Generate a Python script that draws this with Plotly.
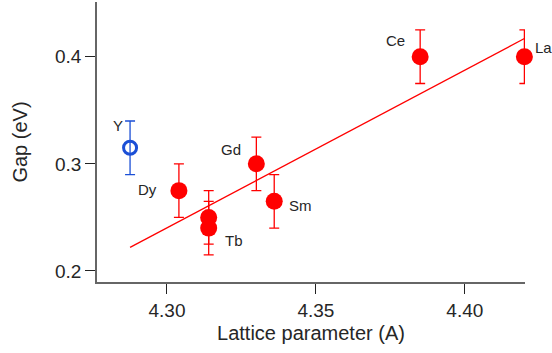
import plotly.graph_objects as go

# Data
elements = ["Dy", "Tb", "Tb", "Gd", "Sm", "Ce", "La"]
lattice = [4.304, 4.314, 4.314, 4.330, 4.336, 4.385, 4.420]
gap = [0.275, 0.250, 0.240, 0.300, 0.265, 0.400, 0.400]
gap_err = [0.025, 0.025, 0.025, 0.025, 0.025, 0.025, 0.025]

y_label = "Y"
y_lattice = [4.2876]
y_gap = [0.315]
y_err = [0.025]

fit_x = [4.2876, 4.420]
fit_y = [0.222, 0.417]

# label offsets in pixels (dx, dy)
label_offsets = {
    "Y": (-12, 22),
    "Dy": (-31, 1),
    "Tb": (25, -12),
    "Gd": (-25, 14),
    "Sm": (26, -4),
    "Ce": (-25, 16),
    "La": (19, 9),
}

RED = "#ff0000"
BLUE = "#1b4fd6"
FONT = "Liberation Sans, Arial, sans-serif"
TXT = "#262626"

fig = go.Figure()

fig.add_trace(go.Scatter(
    x=fit_x, y=fit_y, mode="lines",
    line=dict(color=RED, width=1.3), hoverinfo="skip", showlegend=False, cliponaxis=False,
))

fig.add_trace(go.Scatter(
    x=lattice, y=gap, mode="markers",
    marker=dict(color=RED, size=17, line=dict(width=0)),
    error_y=dict(type="data", array=gap_err, color=RED, thickness=1.3, width=5),
    showlegend=False, cliponaxis=False,
))

fig.add_trace(go.Scatter(
    x=y_lattice, y=y_gap, mode="markers",
    marker=dict(color=BLUE, size=13, line=dict(color=BLUE, width=3), symbol="circle-open"),
    error_y=dict(type="data", array=y_err, color=BLUE, thickness=1.3, width=5),
    showlegend=False, cliponaxis=False,
))

annotations = []
label_points = {}
for el, x, y in zip(elements, lattice, gap):
    if el not in label_points or y < label_points[el][1]:
        label_points[el] = (x, y)
label_points[y_label] = (y_lattice[0], y_gap[0])
for el, (x, y) in label_points.items():
    dx, dy = label_offsets[el]
    annotations.append(dict(
        x=x, y=y, xref="x", yref="y", text=el, showarrow=False,
        xshift=dx, yshift=dy, font=dict(family=FONT, size=15, color=TXT),
    ))

fig.update_layout(
    width=552, height=353,
    margin=dict(l=97, r=27, t=2, b=71),
    paper_bgcolor="white", plot_bgcolor="white",
    font=dict(family=FONT, color=TXT),
    annotations=annotations,
    xaxis=dict(
        range=[4.2765, 4.4202], tickvals=[4.30, 4.35, 4.40], ticktext=["4.30", "4.35", "4.40"],
        ticks="outside", ticklen=10, tickcolor="#222", tickwidth=1.3,
        showline=True, linecolor="#666", linewidth=1.6, showgrid=False, zeroline=False,
        tickfont=dict(family=FONT, size=19, color=TXT),
        title=dict(text="Lattice parameter (A)", font=dict(family=FONT, size=20, color=TXT), standoff=6),
    ),
    yaxis=dict(
        range=[0.1897, 0.4511], tickvals=[0.2, 0.3, 0.4], ticktext=["0.2", "0.3", "0.4"],
        ticks="outside", ticklen=10, tickcolor="#222", tickwidth=1.3,
        showline=True, linecolor="#666", linewidth=1.6, showgrid=False, zeroline=False,
        tickfont=dict(family=FONT, size=19, color=TXT),
        title=dict(text="Gap (eV)", font=dict(family=FONT, size=20, color=TXT), standoff=22),
    ),
)

fig.write_html("out.html")
